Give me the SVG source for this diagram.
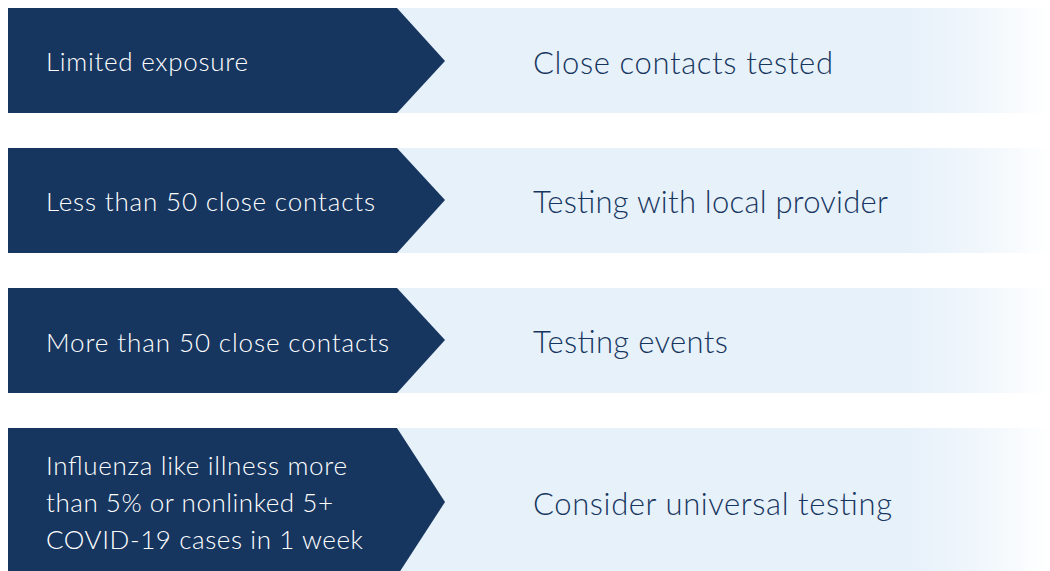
<svg xmlns="http://www.w3.org/2000/svg" width="1050" height="571" viewBox="0 0 1050 571">
  <defs>
    <linearGradient id="band" x1="398" y1="0" x2="1050" y2="0" gradientUnits="userSpaceOnUse">
      <stop offset="0" stop-color="#e6f1fa"/>
      <stop offset="0.78" stop-color="#e7f1fa"/>
      <stop offset="0.9" stop-color="#f1f7fc"/>
      <stop offset="1" stop-color="#ffffff"/>
    </linearGradient>
    <style>
      .band { fill: url(#band); }
      .chev { fill: #17365f; }
      .lt { font-family: Lato, "Liberation Sans", sans-serif; font-weight: 300; font-size: 26px; fill: #ffffff; }
      .rt { font-family: Lato, "Liberation Sans", sans-serif; font-weight: 300; font-size: 31px; fill: #17365f; }
    </style>
  </defs>
  <rect width="1050" height="571" fill="#ffffff"/>

  <g id="row1">
    <rect class="band" x="398" y="8" width="652" height="105"/>
    <polygon class="chev" points="8,8 397,8 445,61 397,113 8,113"/>
    <text class="lt" x="46" y="71" textLength="202">Limited exposure</text>
    <text class="rt" x="533" y="74" textLength="300">Close contacts tested</text>
  </g>

  <g id="row2">
    <rect class="band" x="398" y="148" width="652" height="105"/>
    <polygon class="chev" points="8,148 397,148 445,200 397,253 8,253"/>
    <text class="lt" x="46" y="211" textLength="329">Less than 50 close contacts</text>
    <text class="rt" x="533" y="213" textLength="355">Testing with local provider</text>
  </g>

  <g id="row3">
    <rect class="band" x="398" y="288" width="652" height="105"/>
    <polygon class="chev" points="8,288 397,288 445,340 397,393 8,393"/>
    <text class="lt" x="46" y="352" textLength="343">More than 50 close contacts</text>
    <text class="rt" x="533" y="353" textLength="195">Testing events</text>
  </g>

  <g id="row4">
    <rect class="band" x="398" y="428" width="652" height="143"/>
    <polygon class="chev" points="8,428 397,428 445,502 397,576 8,576"/>
    <text class="lt" x="46" y="475" textLength="301">Influenza like illness more</text>
    <text class="lt" x="46" y="512" textLength="287">than 5% or nonlinked 5+</text>
    <text class="lt" x="46" y="549" textLength="317">COVID-19 cases in 1 week</text>
    <text class="rt" x="533" y="515" textLength="359">Consider universal testing</text>
  </g>

  <g id="connectors"/>
</svg>
